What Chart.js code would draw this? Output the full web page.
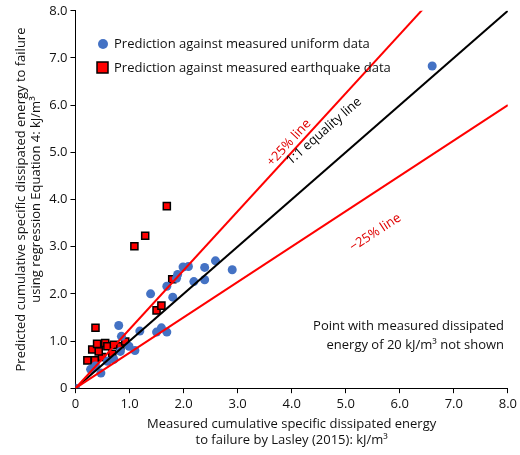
<!DOCTYPE html>
<html><head><meta charset="utf-8">
<script src="https://cdn.jsdelivr.net/npm/chart.js@4"></script>
<style>html,body{margin:0;background:#fff}#wrap{width:520px;height:455px}</style>
</head><body><div id="wrap"><canvas id="c"></canvas></div>
<script>
// measured / predicted values (kJ/m3)
const uniformX = [0, 0.28, 0.37, 0.47, 0.59, 0.71, 0.83, 0.99, 1.10, 0.80, 0.85, 1.19, 1.50, 1.59, 1.69, 1.39, 1.80, 1.69, 1.87, 1.89, 1.99, 2.09, 2.19, 2.39, 2.39, 2.59, 2.90, 6.60];
const uniformY = [0, 0.40, 0.47, 0.32, 0.57, 0.61, 0.78, 0.89, 0.80, 1.33, 1.10, 1.21, 1.19, 1.28, 1.19, 2.00, 1.93, 2.16, 2.33, 2.41, 2.57, 2.58, 2.26, 2.30, 2.56, 2.70, 2.51, 6.83];
const quakeX = [0.22, 0.36, 0.49, 0.68, 0.31, 0.43, 0.40, 0.55, 0.59, 0.71, 0.83, 0.92, 0.37, 1.50, 1.59, 1.79, 1.09, 1.29, 1.69];
const quakeY = [0.59, 0.59, 0.66, 0.73, 0.82, 0.78, 0.94, 0.96, 0.89, 0.92, 0.89, 0.99, 1.28, 1.65, 1.75, 2.31, 3.01, 3.23, 3.86];
const lineX = [0, 8];
const ticks = [0, 1, 2, 3, 4, 5, 6, 7, 8];
const FONT = "'Open Sans', 'Noto Sans', sans-serif";

const pts = (xs, ys) => xs.map((x, i) => ({ x: x, y: ys[i] }));
const refLine = (k) => lineX.map((x) => ({ x: x, y: k * x }));

const overlay = {
    id: "overlay",
    afterDraw(chart) {
        const c = chart.ctx, sx = chart.scales.x, sy = chart.scales.y;
        const rot = (txt, vx, vy, k, col) => {
            const a = Math.atan2(sy.getPixelForValue(0) - sy.getPixelForValue(k), sx.getPixelForValue(1) - sx.getPixelForValue(0));
            c.save();
            c.translate(sx.getPixelForValue(vx), sy.getPixelForValue(vy));
            c.rotate(-a);
            c.fillStyle = col; c.font = "13px " + FONT; c.textAlign = "center"; c.textBaseline = "middle";
            c.fillText(txt, 0, 0);
            c.restore();
        };
        rot("1:1 equality line", 4.6, 5.45, 1, "#000");
        rot("+25% line", 3.95, 5.2, 1.25, "#e00000");
        rot("\u221225% line", 5.55, 3.3, 0.75, "#e00000");
        c.save();
        c.font = "13px " + FONT; c.fillStyle = "#111"; c.textBaseline = "middle";
        c.textAlign = "right";
        c.fillText("Point with measured dissipated", 504, 326);
        c.fillText("energy of 20 kJ/m\u00b3 not shown", 504, 345);
        // legend
        c.textAlign = "left";
        c.fillText("Prediction against measured uniform data", 114, 44);
        c.fillText("Prediction against measured earthquake data", 114, 68);
        c.fillStyle = "#4472c4";
        c.beginPath(); c.arc(103, 44, 5, 0, 2 * Math.PI); c.fill();
        c.fillStyle = "#ff0000"; c.strokeStyle = "#000"; c.lineWidth = 1.5;
        c.fillRect(97, 62, 11, 11); c.strokeRect(97, 62, 11, 11);
        c.restore();
    },
};

const axis = (title) => ({
    type: "linear", min: 0, max: 8,
    afterBuildTicks: (s) => { s.ticks = ticks.map((v) => ({ value: v })); },
    ticks: { color: "#111", font: { family: FONT, size: 13 }, callback: (v) => (v === 0 ? "0" : v.toFixed(1)) },
    grid: { drawOnChartArea: false, color: "#000", tickLength: 5 },
    border: { color: "#000", width: 1 },
    title: { display: true, text: title, color: "#111", font: { family: FONT, size: 13 }, padding: 2 },
});

new Chart(document.getElementById("c"), {
    type: "scatter",
    data: {
        datasets: [
            { data: refLine(1.25), showLine: true, borderColor: "#ff0000", borderWidth: 2, pointRadius: 0 },
            { data: refLine(0.75), showLine: true, borderColor: "#ff0000", borderWidth: 2, pointRadius: 0 },
            { data: refLine(1), showLine: true, borderColor: "#000", borderWidth: 2, pointRadius: 0 },
            { data: pts(uniformX, uniformY), pointStyle: "circle", pointRadius: 4.5, backgroundColor: "#4472c4", borderWidth: 0 },
            { data: pts(quakeX, quakeY), pointStyle: "rect", pointRadius: 5, backgroundColor: "#ff0000", borderColor: "#000", borderWidth: 1.5 },
        ],
    },
    options: {
        animation: false, responsive: true, maintainAspectRatio: false,
        layout: { padding: { top: 1, right: 10, left: 11, bottom: 5 } },
        plugins: { legend: { display: false }, tooltip: { enabled: false } },
        scales: {
            x: axis(["Measured cumulative specific dissipated energy", "to failure by Lasley (2015): kJ/m\u00b3"]),
            y: axis(["Predicted cumulative specific dissipated energy to failure", "using regression Equation 4: kJ/m\u00b3"]),
        },
    },
    plugins: [overlay],
});
</script></body></html>
